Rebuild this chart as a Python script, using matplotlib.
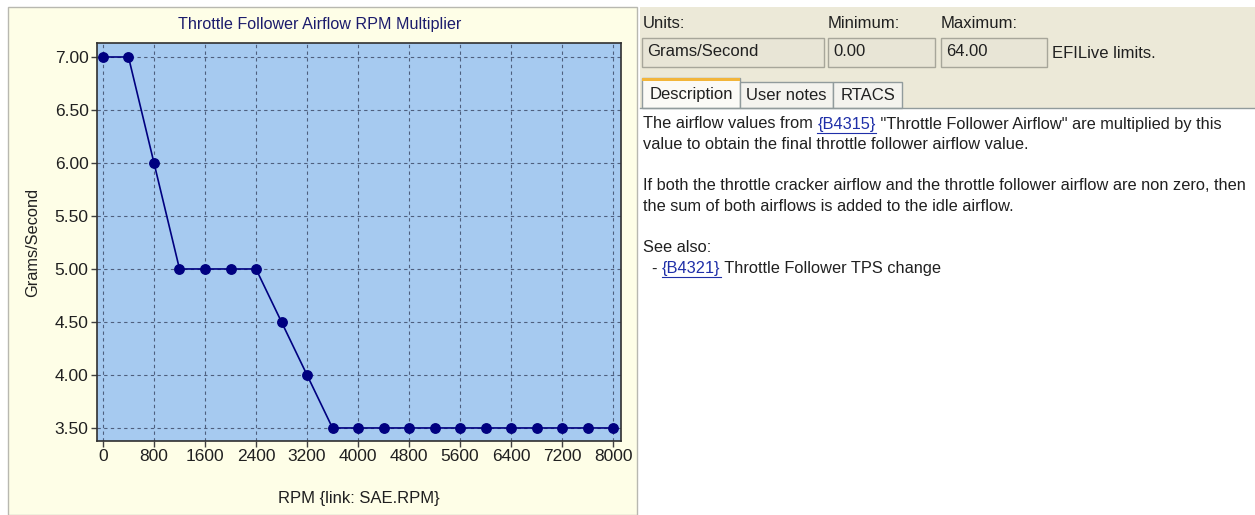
import matplotlib.pyplot as plt
from matplotlib.patches import Rectangle

# data
rpm = [0, 400, 800, 1200, 1600, 2000, 2400, 2800, 3200, 3600, 4000,
       4400, 4800, 5200, 5600, 6000, 6400, 6800, 7200, 7600, 8000]
airflow = [7.00, 7.00, 6.00, 5.00, 5.00, 5.00, 5.00, 4.50, 4.00, 3.50, 3.50,
           3.50, 3.50, 3.50, 3.50, 3.50, 3.50, 3.50, 3.50, 3.50, 3.50]
x_ticks = [0, 800, 1600, 2400, 3200, 4000, 4800, 5600, 6400, 7200, 8000]
y_ticks = [3.50, 4.00, 4.50, 5.00, 5.50, 6.00, 6.50, 7.00]

title = 'Throttle Follower Airflow RPM Multiplier'
x_label = 'RPM {link: SAE.RPM}'
y_label = 'Grams/Second'

units = 'Grams/Second'
minimum = '0.00'
maximum = '64.00'
tabs = ['Description', 'User notes', 'RTACS']
# (text, is_link) runs for each line of the description
desc_lines = [
    [('The airflow values from ', False), ('{B4315}', True),
     (' "Throttle Follower Airflow" are multiplied by this', False)],
    [('value to obtain the final throttle follower airflow value.', False)],
    [],
    [('If both the throttle cracker airflow and the throttle follower airflow are non zero, then', False)],
    [('the sum of both airflows is added to the idle airflow.', False)],
    [],
    [('See also:', False)],
    [('  - ', False), ('{B4321}', True), (' Throttle Follower TPS change', False)],
]

plt.rcParams['font.family'] = ['Liberation Sans', 'DejaVu Sans']

W, H = 1255, 515
fig = plt.figure(figsize=(W / 100, H / 100), dpi=100)
fig.patch.set_facecolor('white')

# background "window" in pixel coordinates
bg = fig.add_axes([0, 0, 1, 1])
bg.set_xlim(0, W)
bg.set_ylim(H, 0)
bg.axis('off')

yellow = '#FEFEE7'
beige = '#ECE9D8'
navy = '#000080'
link_col = '#1F2FA8'
txt_col = '#202020'

# left panel
bg.add_patch(Rectangle((8, 7), 629, H - 7, facecolor=yellow, edgecolor='#B8B8B0', lw=1))
# right panel
bg.add_patch(Rectangle((640, 7), W - 640, 101, facecolor=beige, edgecolor='none'))
bg.add_patch(Rectangle((640, 108), W - 640, H - 108, facecolor='white', edgecolor='none'))
bg.plot([640, W], [108, 108], color='#919B9C', lw=1)

lbl = dict(fontsize=12, color=txt_col, va='center', ha='left')
bg.text(643, 23, 'Units:', **lbl)
bg.text(828, 23, 'Minimum:', **lbl)
bg.text(941, 23, 'Maximum:', **lbl)
for x0, x1, s in [(642, 824, units), (828, 935, minimum), (941, 1047, maximum)]:
    bg.add_patch(Rectangle((x0, 38), x1 - x0, 29, facecolor='#E8E5D6', edgecolor='#A7A69A', lw=1))
    bg.text(x0 + 5, 52, s, **lbl)
bg.text(1052, 53, 'EFILive limits.', **lbl)

# tabs
tab_x = [(642, 740), (740, 833), (833, 902)]
for i, (name, (x0, x1)) in enumerate(zip(tabs, tab_x)):
    top = 78 if i == 0 else 82
    fc = '#FBFAF6' if i == 0 else '#F4F3EE'
    bg.add_patch(Rectangle((x0, top), x1 - x0, 108 - top, facecolor=fc, edgecolor='#919B9C', lw=1))
    if i == 0:
        bg.add_patch(Rectangle((x0, top), x1 - x0, 3, facecolor='#F2B53A', edgecolor='none'))
    bg.text((x0 + x1) / 2, (top + 108) / 2 + 1, name, fontsize=12, color=txt_col,
            va='center', ha='center')

# description text, drawn run by run so links can be coloured and underlined
fig.canvas.draw()
r = fig.canvas.get_renderer()
body = dict(fontsize=11.8, va='center', ha='left')


def text_w(s):
    t = bg.text(0, 0, s + '|', **body)
    w = t.get_window_extent(r).width
    t.remove()
    t = bg.text(0, 0, '|', **body)
    w -= t.get_window_extent(r).width
    t.remove()
    return w


y = 124
for line in desc_lines:
    x = 643
    for s, is_link in line:
        col = link_col if is_link else txt_col
        bg.text(x, y, s, color=col, **body)
        w = text_w(s)
        if is_link:
            bg.plot([x, x + w], [y + 8.5, y + 8.5], color=link_col, lw=0.8)
        x += w
    y += 20.6

# the chart itself
ax = fig.add_axes([97 / W, 1 - 441 / H, (621 - 97) / W, (441 - 43) / H])
ax.set_facecolor('#A6CAF0')
ax.plot(rpm, airflow, color=navy, lw=1.2, marker='o', ms=6.8,
        markerfacecolor=navy, markeredgecolor=navy, zorder=3)
ax.set_xlim(-94, 8125)
ax.set_ylim(3.377, 7.132)
ax.set_xticks(x_ticks)
ax.set_yticks(y_ticks)
ax.set_yticklabels([f'{v:.2f}' for v in y_ticks])
ax.grid(True, color='#4E5F7E', linestyle=(0, (3, 3)), lw=0.8)
ax.tick_params(direction='out', length=4, width=1, color='#404040',
               labelsize=12.5, labelcolor=txt_col, pad=2)
for sp in ax.spines.values():
    sp.set_color('#303030')
    sp.set_linewidth(1.2)

fig.text(320 / W, 1 - 25 / H, title, fontsize=11.6, color='#1C1C6C', ha='center', va='center')
fig.text(359 / W, 1 - 498 / H, x_label, fontsize=12, color=txt_col, ha='center', va='center')
fig.text(33 / W, 1 - 242 / H, y_label, fontsize=11.8, color=txt_col, ha='center', va='center',
         rotation=90)

fig.savefig('out.png', dpi=100, facecolor='white')
